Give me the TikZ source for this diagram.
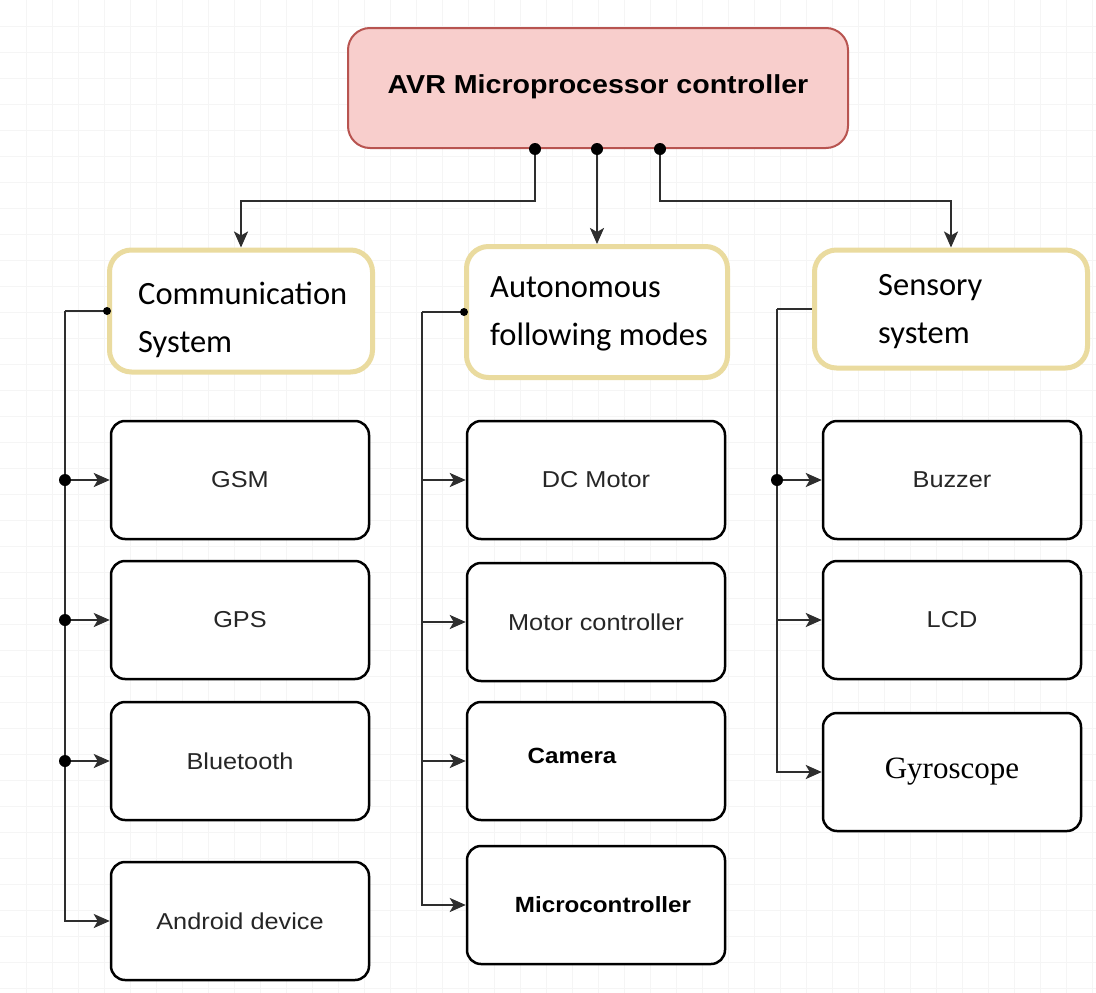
\documentclass[tikz,border=0pt]{standalone}
\usepackage{fontspec}
\usetikzlibrary{arrows.meta,calc}
\newfontfamily\arialw[FakeStretch=1.1]{Liberation Sans}
\newfontfamily\calib{Carlito}
\newfontfamily\serifg{Liberation Serif}
\definecolor{pinkfill}{HTML}{F8CECC}
\definecolor{pinkdraw}{HTML}{B85450}
\definecolor{yelbord}{HTML}{EADB9F}
\definecolor{linec}{HTML}{2E2E2E}
\definecolor{txtc}{HTML}{262626}
\tikzset{
  topbox/.style={draw=pinkdraw, fill=pinkfill, line width=2pt, rounded corners=22pt,
    minimum width=500pt, minimum height=120pt, inner sep=0pt},
  ylwbox/.style={draw=yelbord, fill=white, line width=5pt, rounded corners=22pt, inner sep=0pt},
  blkbox/.style={draw=black, fill=white, line width=2.5pt, rounded corners=14pt,
    minimum width=258pt, minimum height=118pt, inner sep=0pt,
    font=\arialw\fontsize{23}{27}\selectfont, text=txtc},
  cal/.style={font=\calib\fontsize{32.5}{48}\selectfont, align=left, anchor=west, inner sep=0pt},
  conn/.style={draw=linec, line width=2.4pt},
  arr/.style={conn, -{Stealth[length=16pt,width=14pt,inset=4pt]}},
  dot/.style={circle, fill=black, inner sep=0pt, minimum size=12pt},
  gridl/.style={draw=black!4, line width=0.6pt}
}
\begin{document}
\begin{tikzpicture}[x=1pt,y=-1pt]
\useasboundingbox (0,0) rectangle (1096,993);
\fill[white] (0,0) rectangle (1096,993);
\foreach \gx in {26,52,...,1096} \draw[gridl] (\gx,0) -- (\gx,993);
\foreach \gy in {26,52,...,993} \draw[gridl] (0,\gy) -- (1096,\gy);

% top controller
\node[topbox, font=\arialw\bfseries\fontsize{26}{30}\selectfont] (top) at (598,88) {\raisebox{8pt}{AVR Microprocessor controller}};

% category boxes
\node[ylwbox, minimum width=263pt, minimum height=122pt] (comm) at (241,311) {};
\node[cal] (commt) at (138,320) {Communication\\System};
\node[ylwbox, minimum width=261pt, minimum height=131pt] (auto) at (597,312) {};
\node[cal] (autot) at (490,314) {Autonomous\\following modes};
\node[ylwbox, minimum width=273pt, minimum height=118pt] (sens) at (951,309) {};
\node[cal] (senst) at (878,312) {Sensory\\system};

% column 1
\node[blkbox] (gsm) at (240,480) {GSM};
\node[blkbox] (gps) at (240,620) {GPS};
\node[blkbox] (blue) at (240,761) {Bluetooth};
\node[blkbox] (andr) at (240,921) {Android device};
% column 2
\node[blkbox] (dcm) at (596,480) {DC Motor};
\node[blkbox] (motc) at (596,622) {Motor controller};
\node[blkbox, font=\arialw\bfseries\fontsize{22}{27}\selectfont, text=black] (cam) at (596,761) {\hspace*{-48pt}\raisebox{10pt}{Camera}};
\node[blkbox, font=\arialw\bfseries\fontsize{22}{27}\selectfont, text=black] (micro) at (596,905) {\hspace*{14pt}Microcontroller};
% column 3
\node[blkbox] (buzz) at (952,480) {Buzzer};
\node[blkbox] (lcd) at (952,620) {LCD};
\node[blkbox, font=\serifg\fontsize{31}{36}\selectfont, text=black] (gyro) at (952,772) {Gyroscope};

% top connectors
\coordinate (d1) at ([xshift=-63pt]top.south);
\coordinate (d2) at ([xshift=-1pt]top.south);
\coordinate (d3) at ([xshift=62pt]top.south);
\draw[arr] (d1) -- ++(0,52) -| (comm.north);
\draw[arr] (d2) -- (d2 |- auto.north);
\draw[arr] (d3) -- ++(0,52) -| (sens.north);
\node[dot] (d1n) at (d1) {};
\node[dot] (d2n) at (d2) {};
\node[dot] (d3n) at (d3) {};

% communication bus
\draw[conn] (comm.west) -- ++(-42,0) coordinate (cb);
\draw[arr] (cb) |- (andr.west);
\draw[arr] (gsm.west -| cb) -- (gsm.west);
\draw[arr] (gps.west -| cb) -- (gps.west);
\draw[arr] (blue.west -| cb) -- (blue.west);
\node[dot, minimum size=8pt] (cdot) at (comm.west) {};
\node[dot] (cg) at (gsm.west -| cb) {};
\node[dot] (cp) at (gps.west -| cb) {};
\node[dot] (cbl) at (blue.west -| cb) {};

% autonomous bus
\draw[conn] (auto.west) -- ++(-42,0) coordinate (ab);
\draw[arr] (ab) |- (micro.west);
\draw[arr] (dcm.west -| ab) -- (dcm.west);
\draw[arr] (motc.west -| ab) -- (motc.west);
\draw[arr] (cam.west -| ab) -- (cam.west);
\node[dot, minimum size=8pt] (adot) at (auto.west) {};

% sensory bus
\draw[conn] (sens.west) -- ++(-35,0) coordinate (sb);
\draw[arr] (sb) |- (gyro.west);
\draw[arr] (buzz.west -| sb) -- (buzz.west);
\draw[arr] (lcd.west -| sb) -- (lcd.west);
\node[dot] (sdot) at (buzz.west -| sb) {};
\end{tikzpicture}
\end{document}
